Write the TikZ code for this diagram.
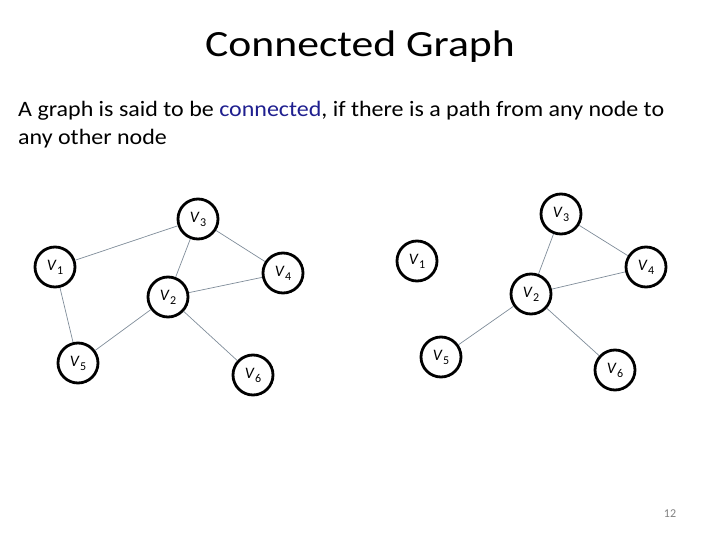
\documentclass[tikz,border=0pt]{standalone}
\usepackage{fontspec}
\setmainfont{Carlito}
\definecolor{edgec}{HTML}{7F8C99}
\definecolor{linkc}{HTML}{1F1F8F}
\newcommand{\vlab}[1]{\textit{V}\kern0.5pt\raisebox{-4pt}{\fontsize{12}{14}\selectfont #1}}
\begin{document}
\begin{tikzpicture}[x=1pt,y=-1pt,
  vert/.style={circle,draw=black,line width=2.8pt,minimum size=40pt,inner sep=0pt,font=\fontsize{16}{19}\selectfont},
  edge/.style={draw=edgec,line width=0.7pt},
  bodytxt/.style={anchor=base west,inner sep=0pt,font=\fontsize{22}{28}\selectfont}]
\useasboundingbox (0,0) rectangle (720,540);
\node[anchor=base,inner sep=0pt] (title) at (360,57) {\fontsize{37}{44}\selectfont\scalebox{1.18}[1]{Connected Graph}};
\node[bodytxt] (body1) at (18,117) {\scalebox{1.09}[1]{A graph is said to be \textcolor{linkc}{connected}, if there is a path from any node to}};
\node[bodytxt] (body2) at (18,145) {\scalebox{1.09}[1]{any other node}};
\node[text=gray,font=\fontsize{12}{14}\selectfont] (pg) at (670,514) {12};
% left graph
\node[vert] (a3) at (198,219) {\vlab{3}};
\node[vert] (a1) at (55,267) {\vlab{1}};
\node[vert] (a4) at (283,273) {\vlab{4}};
\node[vert] (a2) at (168,297) {\vlab{2}};
\node[vert] (a5) at (78,363) {\vlab{5}};
\node[vert] (a6) at (253,375) {\vlab{6}};
\draw[edge] (a1) -- (a3);
\draw[edge] (a1) -- (a5);
\draw[edge] (a3) -- (a2);
\draw[edge] (a3) -- (a4);
\draw[edge] (a2) -- (a4);
\draw[edge] (a2) -- (a5);
\draw[edge] (a2) -- (a6);
% right graph
\node[vert] (b3) at (561,214) {\vlab{3}};
\node[vert] (b1) at (417,261) {\vlab{1}};
\node[vert] (b4) at (646,267) {\vlab{4}};
\node[vert] (b2) at (531,294) {\vlab{2}};
\node[vert] (b5) at (441,357) {\vlab{5}};
\node[vert] (b6) at (615,370) {\vlab{6}};
\draw[edge] (b3) -- (b2);
\draw[edge] (b3) -- (b4);
\draw[edge] (b2) -- (b4);
\draw[edge] (b2) -- (b5);
\draw[edge] (b2) -- (b6);
\end{tikzpicture}
\end{document}
